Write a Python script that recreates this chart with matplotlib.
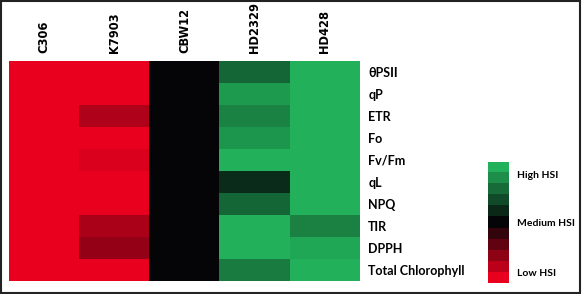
import numpy as np
import matplotlib
matplotlib.use("Agg")
import matplotlib.pyplot as plt
from matplotlib.colors import LinearSegmentedColormap
from matplotlib.patches import Rectangle

# -------------------------
# DATA
# -------------------------

genotypes = ["C306", "K7903", "CBW12", "HD2329", "HD428"]
traits = ["θPSII", "qP", "ETR", "Fo", "Fv/Fm", "qL", "NPQ", "TIR", "DPPH",
          "Total Chlorophyll"]

# HSI score per trait, -1 = low HSI (red), 0 = medium (black), 1 = high (green)
c306 = [-1.0, -1.0, -1.0, -1.0, -1.0, -1.0, -1.0, -1.0, -1.0, -1.0]
k7903 = [-1.0, -1.0, -0.75, -1.0, -0.93, -1.0, -1.0, -0.72, -0.63, -1.0]
cbw12 = [0.0, 0.0, 0.0, 0.0, 0.0, 0.0, 0.0, 0.0, 0.0, 0.0]
hd2329 = [0.57, 0.87, 0.74, 0.85, 1.0, 0.22, 0.57, 1.0, 1.0, 0.69]
hd428 = [1.0, 1.0, 1.0, 1.0, 1.0, 1.0, 1.0, 0.72, 0.95, 1.0]

legend_labels = ["High HSI", "Medium HSI", "Low HSI"]

# -------------------------
# PLOT
# -------------------------

cmap = LinearSegmentedColormap.from_list(
    "hsi", ["#e9001f", "#050508", "#22b05a"])

data = np.array([c306, k7903, cbw12, hd2329, hd428]).T

fig = plt.figure(figsize=(5.82, 2.94), dpi=100)

ax = fig.add_axes([9 / 582, 1 - 281 / 294, 351 / 582, 220 / 294])
ax.imshow(data, cmap=cmap, vmin=-1, vmax=1, aspect="auto",
          interpolation="nearest")

ax.set_xticks(range(len(genotypes)))
ax.set_xticklabels(genotypes, rotation=90, fontsize=8.3, fontweight="bold",
                   family="DejaVu Sans")
ax.xaxis.tick_top()
ax.set_yticks(range(len(traits)))
ax.set_yticklabels(traits, fontsize=9, fontweight="bold", family="Lato")
ax.yaxis.tick_right()
ax.tick_params(length=0, pad=6)
for s in ax.spines.values():
    s.set_visible(False)

# discrete legend bar
levels = np.linspace(1, -1, 11).reshape(-1, 1)
cax = fig.add_axes([488 / 582, 1 - 283 / 294, 21 / 582, 121 / 294])
cax.imshow(levels, cmap=cmap, vmin=-1, vmax=1, aspect="auto",
           interpolation="nearest")
cax.set_xticks([])
cax.set_yticks([0.6, 5, 9.5])
cax.set_yticklabels(legend_labels, fontsize=7.5, fontweight="bold",
                    family="Lato")
cax.yaxis.tick_right()
cax.tick_params(length=0, pad=6)
for s in cax.spines.values():
    s.set_visible(False)

# frame around the figure
fig.patches.append(Rectangle((0.002, 0.004), 0.994, 0.992,
                             transform=fig.transFigure, fill=False,
                             edgecolor="#222222", linewidth=1.5))

fig.savefig("out.png", dpi=100)
